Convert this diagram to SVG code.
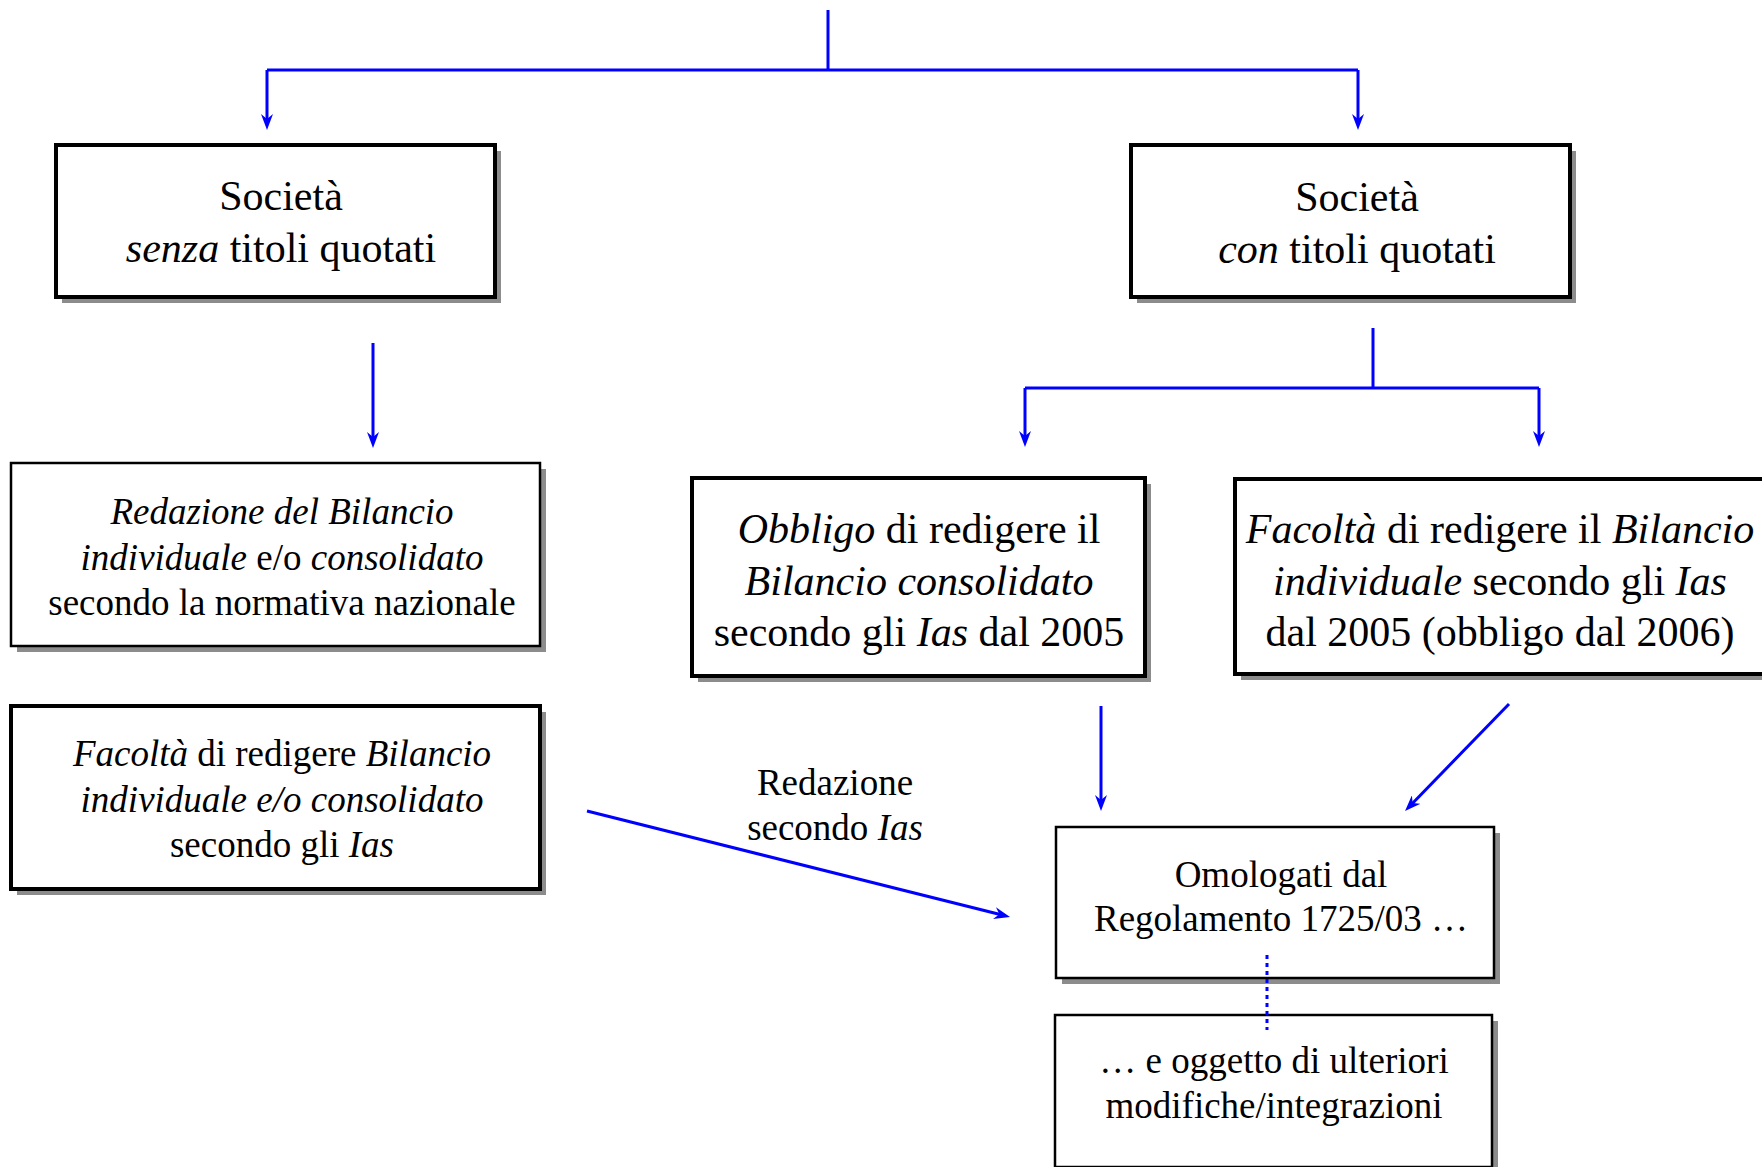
<svg xmlns="http://www.w3.org/2000/svg" width="1762" height="1167" viewBox="0 0 1762 1167">
<defs>
<style>
.box{fill:#fff;stroke:#000}
.thick{stroke-width:4}
.thin{stroke-width:2.5}
.sh{fill:#8c8c8c}
.t{font-family:"Liberation Serif","Times New Roman",serif;fill:#000;text-anchor:middle}
.big{font-size:42px}
.med{font-size:37px}
.i{font-style:italic}
.ln{stroke:#0000ff;stroke-width:3;fill:none}
.dot{stroke:#0000ff;stroke-width:3;fill:none;stroke-dasharray:4 4}
</style>
<marker id="ah" viewBox="0 0 16 12" refX="10" refY="6" markerWidth="16" markerHeight="12" markerUnits="userSpaceOnUse" orient="auto">
<path d="M0,0 L16,6 L0,12 L5,6 z" fill="#0000ff"/>
</marker>
</defs>
<rect width="1762" height="1167" fill="#fff"/>

<g id="n-senza">
<rect class="sh" x="62" y="151" width="439" height="152"/>
<rect class="box thick" x="56" y="145" width="439" height="152"/>
<text class="t big" x="281" y="210">Società</text>
<text class="t big" x="281" y="262"><tspan class="i">senza</tspan> titoli quotati</text>
</g>

<g id="n-con">
<rect class="sh" x="1137" y="151" width="439" height="152"/>
<rect class="box thick" x="1131" y="145" width="439" height="152"/>
<text class="t big" x="1357" y="211">Società</text>
<text class="t big" x="1357" y="263"><tspan class="i">con</tspan> titoli quotati</text>
</g>

<g id="n-redazione">
<rect class="sh" x="17" y="469" width="529" height="183"/>
<rect class="box thin" x="11" y="463" width="529" height="183"/>
<text class="t med i" x="282" y="524">Redazione del Bilancio</text>
<text class="t med" x="282" y="570"><tspan class="i">individuale</tspan> e/o <tspan class="i">consolidato</tspan></text>
<text class="t med" x="282" y="615">secondo la normativa nazionale</text>
</g>

<g id="n-facolta-left">
<rect class="sh" x="17" y="712" width="529" height="183"/>
<rect class="box thick" x="11" y="706" width="529" height="183"/>
<text class="t med" x="282" y="766"><tspan class="i">Facoltà</tspan> di redigere <tspan class="i">Bilancio</tspan></text>
<text class="t med i" x="282" y="812">individuale e/o consolidato</text>
<text class="t med" x="282" y="857">secondo gli <tspan class="i">Ias</tspan></text>
</g>

<g id="n-obbligo">
<rect class="sh" x="698" y="484" width="453" height="198"/>
<rect class="box thick" x="692" y="478" width="453" height="198"/>
<text class="t big" x="919" y="543"><tspan class="i">Obbligo</tspan> di redigere il</text>
<text class="t big i" x="919" y="595">Bilancio consolidato</text>
<text class="t big" x="919" y="646">secondo gli <tspan class="i">Ias</tspan> dal 2005</text>
</g>

<g id="n-facolta-right">
<rect class="sh" x="1241" y="485" width="531" height="195"/>
<rect class="box thick" x="1235" y="479" width="531" height="195"/>
<text class="t big" x="1500" y="543"><tspan class="i">Facoltà</tspan> di redigere il <tspan class="i">Bilancio</tspan></text>
<text class="t big" x="1500" y="595"><tspan class="i">individuale</tspan> secondo gli <tspan class="i">Ias</tspan></text>
<text class="t big" x="1500" y="646">dal 2005 (obbligo dal 2006)</text>
</g>

<g id="label-redazione">
<text class="t med" x="835" y="795">Redazione</text>
<text class="t med" x="835" y="840">secondo <tspan class="i">Ias</tspan></text>
</g>

<g id="n-omologati">
<rect class="sh" x="1062" y="833" width="438" height="151"/>
<rect class="box thin" x="1056" y="827" width="438" height="151"/>
<text class="t med" x="1281" y="887">Omologati dal</text>
<text class="t med" x="1281" y="931">Regolamento 1725/03 …</text>
</g>

<g id="n-oggetto">
<rect class="sh" x="1061" y="1021" width="437" height="152"/>
<rect class="box thin" x="1055" y="1015" width="437" height="152"/>
<text class="t med" x="1274" y="1073">… e oggetto di ulteriori</text>
<text class="t med" x="1274" y="1118">modifiche/integrazioni</text>
</g>

<g id="connectors">
<path class="ln" d="M828,10 V70"/>
<path class="ln" d="M267,70 H1358"/>
<path class="ln" d="M267,70 V124" marker-end="url(#ah)"/>
<path class="ln" d="M1358,70 V124" marker-end="url(#ah)"/>
<path class="ln" d="M373,343 V442" marker-end="url(#ah)"/>
<path class="ln" d="M1373,328 V388"/>
<path class="ln" d="M1025,388 H1539"/>
<path class="ln" d="M1025,388 V441" marker-end="url(#ah)"/>
<path class="ln" d="M1539,388 V441" marker-end="url(#ah)"/>
<path class="ln" d="M1101,706 V805" marker-end="url(#ah)"/>
<path class="ln" d="M1509,704 L1409.2,806.7" marker-end="url(#ah)"/>
<path class="ln" d="M587,811 L1004.2,915.5" marker-end="url(#ah)"/>
<path class="dot" d="M1267,955 V1030"/>
</g>
</svg>
